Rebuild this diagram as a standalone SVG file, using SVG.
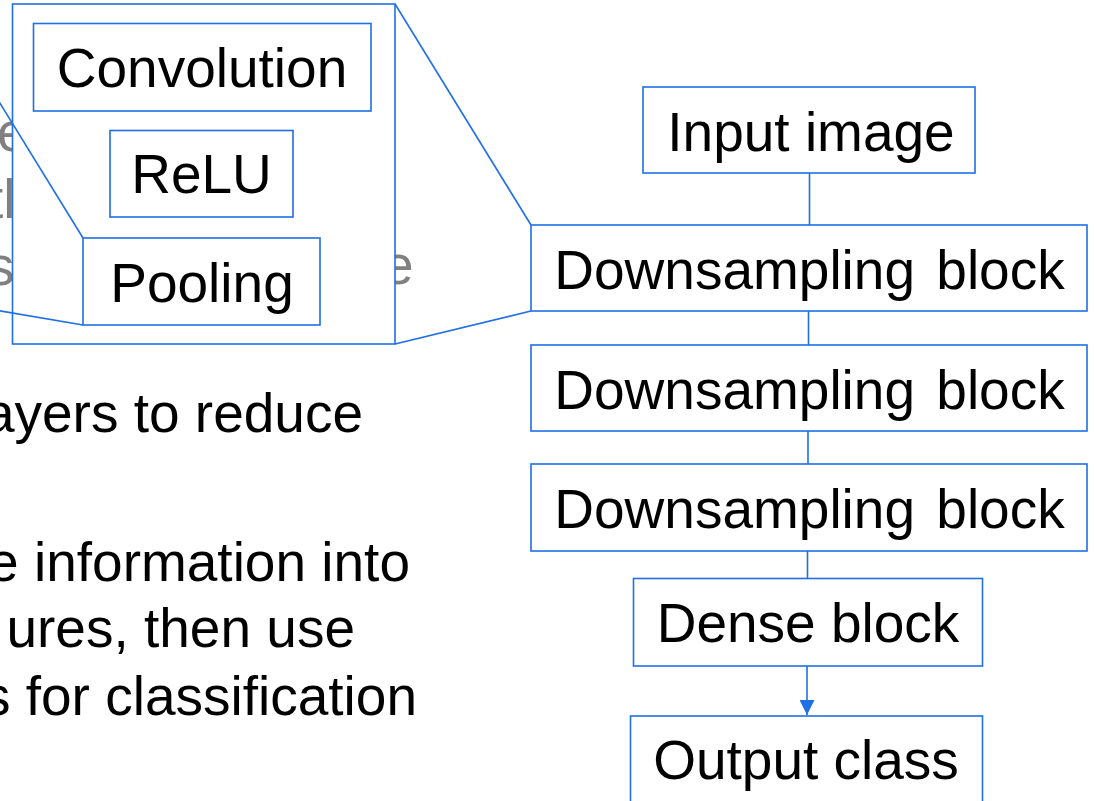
<svg xmlns="http://www.w3.org/2000/svg" width="1094" height="801" viewBox="0 0 1094 801">
  <style>
    .box { fill: #ffffff; stroke: #1f6fe5; stroke-width: 1.6; }
    .edge { fill: none; stroke: #1f6fe5; stroke-width: 1.6; }
    .lbl { font-family: "Liberation Sans", Arial, sans-serif; font-size: 55px; fill: #000000; text-anchor: middle; }
    .body { font-family: "Liberation Sans", Arial, sans-serif; font-size: 55px; fill: #000000; text-anchor: end; }
    .faded { font-family: "Liberation Sans", Arial, sans-serif; font-size: 55px; fill: #808080; }
  </style>
  <defs>
    <marker id="head" markerWidth="15" markerHeight="15" refX="15" refY="7.5" orient="auto" markerUnits="userSpaceOnUse">
      <path d="M0,0 L15,7.5 L0,15 Z" fill="#1f6fe5"/>
    </marker>
  </defs>
  <rect width="1094" height="801" fill="#ffffff"/>

  <!-- background slide text, partly hidden by the inset -->
  <g id="background-text">
    <text class="faded" x="-3" y="151">e</text>
    <text class="faded" x="-12" y="218">tl</text>
    <text class="faded" x="-13" y="285">s</text>
    <text class="faded" x="383" y="284">e</text>
    <text class="body" x="363" y="432">ayers to reduce</text>
    <text class="body" x="410" y="581">e information into</text>
    <text class="body" x="355" y="647">ures, then use</text>
    <text class="body" x="417" y="715">s for classification</text>
  </g>

  <!-- expanded view of a downsampling block -->
  <g id="inset">
    <rect class="box" x="12.5" y="4" width="382.5" height="340"/>
  </g>

  <g id="connectors">
    <!-- zoom lines: pooling layer to the left, inset to the downsampling block -->
    <line class="edge" x1="-2" y1="100" x2="83" y2="238"/>
    <line class="edge" x1="-2" y1="310.5" x2="83" y2="325"/>
    <line class="edge" x1="395" y1="4" x2="531" y2="225"/>
    <line class="edge" x1="395" y1="344" x2="531" y2="311"/>
    <!-- pipeline -->
    <line class="edge" x1="809.5" y1="173" x2="809.5" y2="225"/>
    <line class="edge" x1="808.5" y1="311" x2="808.5" y2="345"/>
    <line class="edge" x1="808" y1="431" x2="808" y2="464"/>
    <line class="edge" x1="807.5" y1="551" x2="807.5" y2="578"/>
    <line class="edge" x1="807" y1="666" x2="807" y2="715" marker-end="url(#head)"/>
  </g>

  <g id="convolution">
    <rect class="box" x="33.5" y="23.5" width="337.5" height="87.5"/>
    <text class="lbl" x="202" y="87">Convolution</text>
  </g>
  <g id="relu">
    <rect class="box" x="110" y="130.5" width="183" height="86.5"/>
    <text class="lbl" x="201.5" y="193">ReLU</text>
  </g>
  <g id="pooling">
    <rect class="box" x="83" y="238" width="237" height="87"/>
    <text class="lbl" x="202" y="302">Pooling</text>
  </g>

  <g id="input-image">
    <rect class="box" x="643" y="87" width="332" height="86"/>
    <text class="lbl" x="811" y="151">Input image</text>
  </g>
  <g id="downsampling-1">
    <rect class="box" x="531" y="225" width="556" height="86"/>
    <text class="lbl" x="809.5" y="289" word-spacing="6">Downsampling block</text>
  </g>
  <g id="downsampling-2">
    <rect class="box" x="531" y="345" width="556" height="86"/>
    <text class="lbl" x="809.5" y="409" word-spacing="6">Downsampling block</text>
  </g>
  <g id="downsampling-3">
    <rect class="box" x="531" y="464" width="556" height="87"/>
    <text class="lbl" x="809.5" y="528" word-spacing="6">Downsampling block</text>
  </g>
  <g id="dense-block">
    <rect class="box" x="633.5" y="578.5" width="349" height="87.5"/>
    <text class="lbl" x="808" y="642">Dense block</text>
  </g>
  <g id="output-class">
    <rect class="box" x="630.5" y="716" width="352" height="100"/>
    <text class="lbl" x="806" y="779">Output class</text>
  </g>
</svg>
